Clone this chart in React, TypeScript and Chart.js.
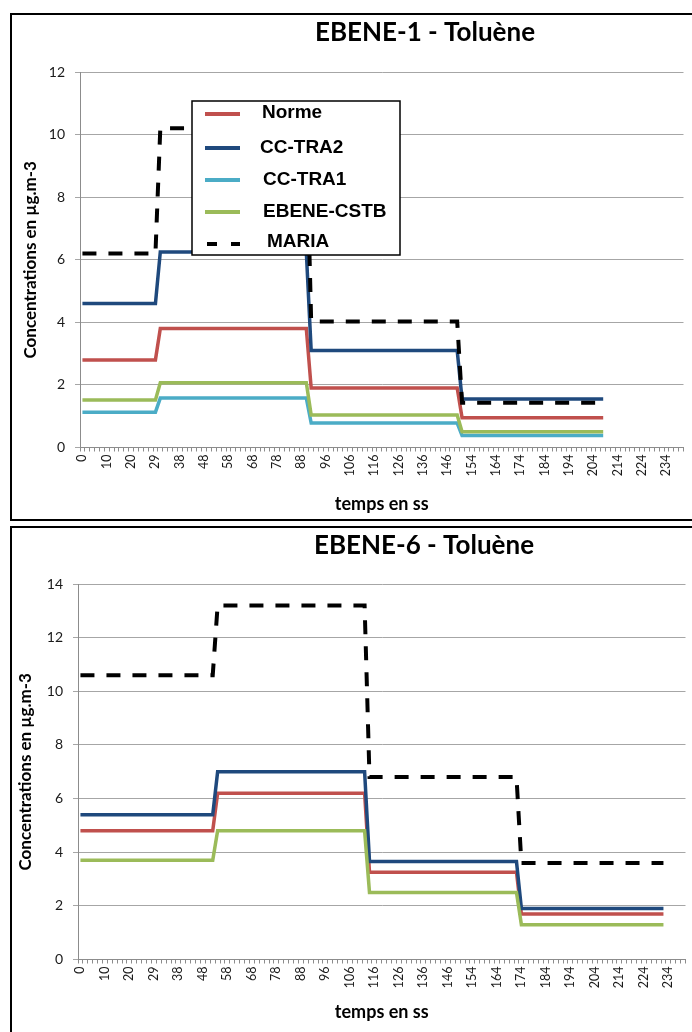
import React, { useEffect, useRef } from 'react';
import { Chart, registerables } from 'chart.js';

Chart.register(...registerables);

// Category axis: one slot per sample, a label every fifth sample
const TIME_LABELS = ['0', '10', '20', '29', '38', '48', '58', '68', '78', '88', '96', '106', '116', '126', '136', '146', '154', '164', '174', '184', '194', '204', '214', '224', '234'];
const CATEGORY_COUNT = 124;
const LABEL_EVERY = 5;

const SERIES_NAMES = ['Norme', 'CC-TRA2', 'CC-TRA1', 'EBENE-CSTB', 'MARIA'];
const SERIES_COLORS = ['#C0504D', '#1F497D', '#4BACC6', '#9BBB59', '#000000'];

// EBENE-1 — four plateaus (first / last sample index of each)
const E1_PHASE_START = [0, 16, 47, 78];
const E1_PHASE_END = [15, 46, 77, 107];
const E1_NORME = [2.8, 3.8, 1.9, 0.95];
const E1_CC_TRA2 = [4.6, 6.25, 3.1, 1.55];
const E1_CC_TRA1 = [1.13, 1.58, 0.78, 0.38];
const E1_EBENE_CSTB = [1.52, 2.07, 1.04, 0.5];
const E1_MARIA = [6.2, 10.2, 4.03, 1.43];

// EBENE-6 — four plateaus
const E6_PHASE_START = [0, 28, 59, 90];
const E6_PHASE_END = [27, 58, 89, 119];
const E6_NORME = [4.8, 6.2, 3.25, 1.7];
const E6_CC_TRA2 = [5.4, 7.0, 3.65, 1.9];
const E6_EBENE_CSTB = [3.7, 4.8, 2.5, 1.3];
const E6_MARIA = [10.6, 13.2, 6.8, 3.6];

const MARIA_DASH = [14, 12];

type Series = { name: string; color: string; values: number[]; dash?: number[] };

type PanelSpec = {
  title: string;
  titleX: number;
  titleY: number;
  yMax: number;
  start: number[];
  end: number[];
  series: Series[];
  areaTop: number;
  areaLeft: number;
  areaRightPad: number;
  xAxisHeight: number;
  xTitlePad: number;
  yTitlePad: number;
  legend: boolean;
  boxTop: number;
  boxHeight: number;
};

function stepPoints(levels: number[], start: number[], end: number[]) {
  return levels.flatMap((v, k) => [
    { x: start[k], y: v },
    { x: end[k], y: v },
  ]);
}

const headingPlugin = {
  id: 'heading',
  afterDraw(chart: any, _args: any, opts: any) {
    if (!opts || !opts.text) return;
    const ctx = chart.ctx;
    ctx.save();
    ctx.font = opts.labelFont;
    ctx.fillStyle = '#000';
    ctx.textAlign = 'center';
    ctx.textBaseline = 'middle';
    ctx.fillText(opts.text, opts.x, opts.y);
    ctx.restore();
  },
};

const insetLegendPlugin = {
  id: 'insetLegend',
  afterDatasetsDraw(chart: any, _args: any, opts: any) {
    if (!opts || !opts.display) return;
    const ctx = chart.ctx;
    ctx.save();
    ctx.fillStyle = '#ffffff';
    ctx.fillRect(opts.x, opts.y, opts.width, opts.height);
    ctx.strokeStyle = '#000';
    ctx.lineWidth = 1.5;
    ctx.strokeRect(opts.x, opts.y, opts.width, opts.height);
    chart.data.datasets.forEach((ds: any, i: number) => {
      const ly = opts.lineY[i];
      const dashed = ds.borderDash && ds.borderDash.length;
      ctx.beginPath();
      ctx.strokeStyle = ds.borderColor;
      ctx.lineWidth = 4;
      ctx.setLineDash(dashed ? [10, 14] : []);
      ctx.lineDashOffset = dashed ? -2 : 0;
      ctx.moveTo(opts.lineX0, ly);
      ctx.lineTo(opts.lineX1, ly);
      ctx.stroke();
      ctx.setLineDash([]);
      ctx.fillStyle = '#000';
      ctx.font = opts.labelFont;
      ctx.textAlign = 'left';
      ctx.textBaseline = 'middle';
      ctx.fillText(ds.label, opts.textX[i], opts.textY[i]);
    });
    ctx.restore();
  },
};

function buildConfig(p: PanelSpec): any {
  const n = p.series.length;
  return {
    type: 'line',
    data: {
      datasets: p.series.map((s, i) => ({
        label: s.name,
        data: stepPoints(s.values, p.start, p.end),
        borderColor: s.color,
        backgroundColor: s.color,
        borderWidth: s.dash ? 4 : 3.5,
        borderDash: s.dash ?? [],
        pointRadius: 0,
        tension: 0,
        fill: false,
        order: n - i,
      })),
    },
    options: {
      responsive: false,
      animation: false,
      devicePixelRatio: 1,
      layout: { padding: { top: p.areaTop, right: p.areaRightPad, bottom: 0, left: 0 } },
      plugins: {
        legend: { display: false },
        tooltip: { enabled: false },
        title: { display: false },
        heading: {
          text: p.title,
          x: p.titleX,
          y: p.titleY,
          labelFont: 'bold 26px Lato',
        },
        insetLegend: {
          display: p.legend,
          x: 180,
          y: 86,
          width: 208,
          height: 154,
          lineX0: 193,
          lineX1: 228,
          lineY: [99, 133, 165, 197, 229],
          textX: [250, 248, 251, 251, 255],
          textY: [98, 133, 165, 197, 227],
          labelFont: 'bold 19px "Liberation Sans"',
        },
      },
      scales: {
        x: {
          type: 'linear',
          min: -0.5,
          max: CATEGORY_COUNT - 0.5,
          afterBuildTicks: (axis: any) => {
            axis.ticks = Array.from({ length: CATEGORY_COUNT }, (_, i) => ({ value: i }));
          },
          afterFit: (axis: any) => {
            axis.height = p.xAxisHeight;
            axis.paddingLeft = 0;
            axis.paddingRight = 0;
          },
          ticks: {
            autoSkip: false,
            minRotation: 90,
            maxRotation: 90,
            padding: 3,
            color: '#1a1a1a',
            font: { family: 'Lato', size: 12.5 },
            callback: (v: number) => (v % LABEL_EVERY === 0 ? TIME_LABELS[v / LABEL_EVERY] ?? '' : ''),
          },
          grid: { offset: true, drawOnChartArea: false, drawTicks: true, tickLength: 4, color: '#8c8c8c' },
          border: { display: true, color: '#8c8c8c' },
          title: {
            display: true,
            text: 'temps en ss',
            color: '#000',
            font: { family: 'Lato', size: 18, weight: 'bold' },
            padding: { top: 0, bottom: p.xTitlePad },
          },
        },
        y: {
          min: 0,
          max: p.yMax,
          afterFit: (axis: any) => {
            axis.width = p.areaLeft;
          },
          ticks: {
            stepSize: 2,
            padding: 10,
            color: '#1a1a1a',
            font: { family: 'Lato', size: 14 },
          },
          grid: { color: '#a6a6a6', drawTicks: true, tickLength: 5 },
          border: { display: true, color: '#8c8c8c' },
          title: {
            display: true,
            text: 'Concentrations en µg.m-3',
            color: '#000',
            font: { family: 'Lato', size: 17, weight: 'bold' },
            padding: { top: p.yTitlePad, bottom: 0 },
          },
        },
      },
    },
    plugins: [headingPlugin, insetLegendPlugin],
  };
}

const PANEL_1: PanelSpec = {
  title: 'EBENE-1 - Toluène',
  titleX: 413,
  titleY: 18,
  yMax: 12,
  start: E1_PHASE_START,
  end: E1_PHASE_END,
  series: [
    { name: SERIES_NAMES[0], color: SERIES_COLORS[0], values: E1_NORME },
    { name: SERIES_NAMES[1], color: SERIES_COLORS[1], values: E1_CC_TRA2 },
    { name: SERIES_NAMES[2], color: SERIES_COLORS[2], values: E1_CC_TRA1 },
    { name: SERIES_NAMES[3], color: SERIES_COLORS[3], values: E1_EBENE_CSTB },
    { name: SERIES_NAMES[4], color: SERIES_COLORS[4], values: E1_MARIA, dash: MARIA_DASH },
  ],
  areaTop: 57,
  areaLeft: 68,
  areaRightPad: 8.5,
  xAxisHeight: 71.5,
  xTitlePad: 4,
  yTitlePad: 8,
  legend: true,
  boxTop: 13,
  boxHeight: 504,
};

const PANEL_2: PanelSpec = {
  title: 'EBENE-6 - Toluène',
  titleX: 412,
  titleY: 18,
  yMax: 14,
  start: E6_PHASE_START,
  end: E6_PHASE_END,
  series: [
    { name: SERIES_NAMES[0], color: SERIES_COLORS[0], values: E6_NORME },
    { name: SERIES_NAMES[1], color: SERIES_COLORS[1], values: E6_CC_TRA2 },
    { name: SERIES_NAMES[3], color: SERIES_COLORS[3], values: E6_EBENE_CSTB },
    { name: SERIES_NAMES[4], color: SERIES_COLORS[4], values: E6_MARIA, dash: MARIA_DASH },
  ],
  areaTop: 56,
  areaLeft: 66,
  areaRightPad: 6.5,
  xAxisHeight: 72.5,
  xTitlePad: 9,
  yTitlePad: 3,
  legend: false,
  boxTop: 526,
  boxHeight: 520,
};

function Panel({ spec }: { spec: PanelSpec }) {
  const ref = useRef<HTMLCanvasElement>(null);
  useEffect(() => {
    if (!ref.current) return;
    const chart = new Chart(ref.current, buildConfig(spec));
    return () => chart.destroy();
  }, [spec]);
  return (
    <div
      style={{
        position: 'absolute',
        left: 10,
        top: spec.boxTop,
        width: 700,
        height: spec.boxHeight,
        border: '2px solid #000',
        background: '#fff',
      }}
    >
      <canvas ref={ref} width={680} height={504} style={{ display: 'block' }} />
    </div>
  );
}

export default function App() {
  return (
    <div
      style={{
        position: 'absolute',
        left: 0,
        top: 0,
        width: 692,
        height: 1032,
        overflow: 'hidden',
        background: '#fff',
      }}
    >
      <Panel spec={PANEL_1} />
      <Panel spec={PANEL_2} />
    </div>
  );
}
